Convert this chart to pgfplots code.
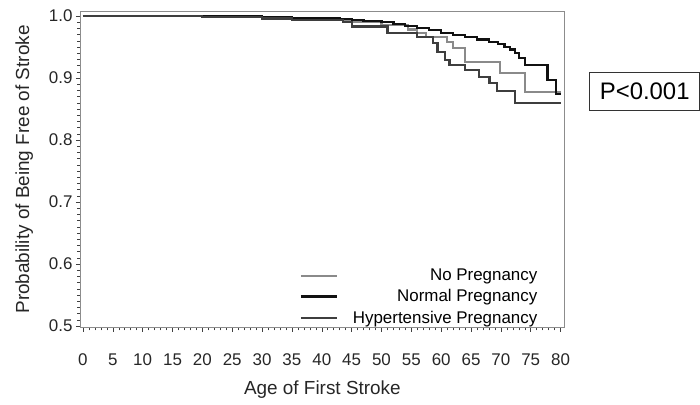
\documentclass[border=0pt]{standalone}
\usepackage{fontspec}
\setmainfont{Liberation Sans}
\usepackage{pgfplots}
\pgfplotsset{compat=1.18}

\definecolor{nopreg}{HTML}{8A8A8A}
\definecolor{normpreg}{HTML}{111111}
\definecolor{hyppreg}{HTML}{3E3E3E}
\definecolor{framegray}{HTML}{8C8C8C}

\begin{document}
\begin{tikzpicture}
\begin{axis}[
    scale only axis,
    width=485bp, height=317bp,
    xmin=-0.5, xmax=80.7,
    ymin=0.497, ymax=1.008,
    axis line style={framegray, line width=0.8pt},
    xtick={0,5,...,80}, minor x tick num=4,
    ytick={0.5,0.6,0.7,0.8,0.9,1.0}, minor y tick num=9,
    tick align=outside, xtick pos=bottom, ytick pos=left,
    tick style={black!75, line width=0.5pt},
    major tick length=4bp, minor tick length=2.5bp,
    yticklabel style={/pgf/number format/fixed, /pgf/number format/fixed zerofill,
        /pgf/number format/precision=1},
    /pgf/number format/assume math mode=true,
    ticklabel style={font=\fontsize{17}{19}\selectfont, text=black!85},
    xticklabel style={yshift=-18bp},
    label style={font=\fontsize{19}{21}\selectfont, text=black!85},
    xlabel={Age of First Stroke},
    xlabel style={yshift=-9bp},
    ylabel={Probability of Being Free of Stroke},
    ylabel style={yshift=9bp},
    legend style={at={(0.950,0.0)}, anchor=south east, draw=none, fill=none,
        font=\fontsize{17}{19}\selectfont, row sep=3.5bp, inner sep=1bp,
        column sep=13bp},
    legend cell align=right,
    legend image code/.code={\draw[#1] (0bp,0bp) -- (36bp,0bp);},
    every axis plot/.append style={line width=2.2bp, const plot},
]
% No pregnancy
\addplot[nopreg] coordinates {
(0,1.000) (20,0.999) (30,0.997) (38,0.994) (45,0.990) (50,0.986)
(54.5,0.978) (56,0.973) (57.5,0.966) (61,0.958) (62,0.948) (64,0.926)
(69.8,0.908) (74,0.877) (80,0.877)};
\addlegendentry{No Pregnancy}
% Normal pregnancy
\addplot[normpreg] coordinates {
(0,1.000) (22,0.999) (30,0.998) (35,0.997) (40,0.996) (43,0.995)
(45,0.993) (47,0.992) (50,0.990) (52,0.987) (54,0.984) (56,0.981)
(58,0.977) (60,0.973) (62,0.969) (64,0.966) (66,0.962) (68,0.958)
(69.5,0.955) (70.6,0.950) (71.5,0.946) (72.3,0.940) (73.1,0.932)
(74,0.921) (77.8,0.897) (79.2,0.874) (80,0.874)};
\addlegendentry{Normal Pregnancy}
% Hypertensive pregnancy
\addplot[hyppreg] coordinates {
(0,1.000) (20,0.998) (30,0.996) (35,0.994) (43.5,0.990) (45,0.983)
(51,0.973) (56,0.966) (58.6,0.956) (59.4,0.942) (60.6,0.929)
(61.4,0.921) (64,0.913) (66.4,0.902) (68.1,0.892) (69.3,0.879)
(72.3,0.860) (80,0.860)};
\addlegendentry{Hypertensive Pregnancy}

\path (rel axis cs:0,0) ++(-80bp,-77bp) coordinate (bbsw);
\end{axis}
\path (bbsw) rectangle ++(700bp,405bp);
\node[draw=black!80, line width=0.6pt, font=\fontsize{24}{26}\selectfont,
      minimum width=110bp, minimum height=38bp, inner sep=0pt]
      at ([shift={(645bp,314bp)}]bbsw) {P<0.001};
\end{tikzpicture}
\end{document}
